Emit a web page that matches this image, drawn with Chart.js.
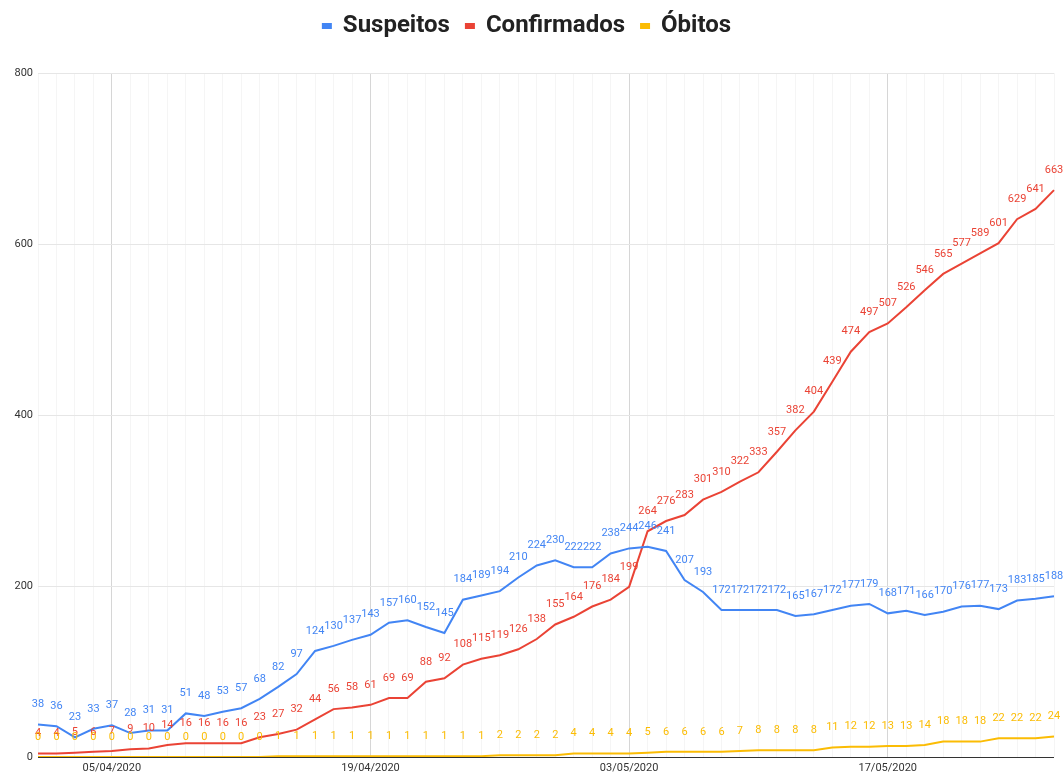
<!DOCTYPE html>
<html>
<head>
<meta charset="utf-8">
<script src="https://cdn.jsdelivr.net/npm/chart.js@4/dist/chart.umd.min.js"></script>
<style>
  html, body { margin: 0; padding: 0; background: #fff; }
  #wrap { width: 1064px; height: 776px; position: relative; }
</style>
</head>
<body>
<div id="wrap"><canvas id="c" width="1064" height="776"></canvas></div>
<script>
const categories = [
  "01/04/2020","02/04/2020","03/04/2020","04/04/2020","05/04/2020","06/04/2020","07/04/2020","08/04/2020","09/04/2020","10/04/2020",
  "11/04/2020","12/04/2020","13/04/2020","14/04/2020","15/04/2020","16/04/2020","17/04/2020","18/04/2020","19/04/2020","20/04/2020",
  "21/04/2020","22/04/2020","23/04/2020","24/04/2020","25/04/2020","26/04/2020","27/04/2020","28/04/2020","29/04/2020","30/04/2020",
  "01/05/2020","02/05/2020","03/05/2020","04/05/2020","05/05/2020","06/05/2020","07/05/2020","08/05/2020","09/05/2020","10/05/2020",
  "11/05/2020","12/05/2020","13/05/2020","14/05/2020","15/05/2020","16/05/2020","17/05/2020","18/05/2020","19/05/2020","20/05/2020",
  "21/05/2020","22/05/2020","23/05/2020","24/05/2020","25/05/2020","26/05/2020"
];
const shownTickLabels = ["05/04/2020","19/04/2020","03/05/2020","17/05/2020"];
const yTicks = [0, 200, 400, 600, 800];

const suspeitos = [38,36,23,33,37,28,31,31,51,48, 53,57,68,82,97,124,130,137,143,157,
  160,152,145,184,189,194,210,224,230,222, 222,238,244,246,241,207,193,172,172,172,
  172,165,167,172,177,179,168,171,166,170, 176,177,173,183,185,188];
const confirmados = [4,4,5,6,7,9,10,14,16,16, 16,16,23,27,32,44,56,58,61,69,
  69,88,92,108,115,119,126,138,155,164, 176,184,199,264,276,283,301,310,322,333,
  357,382,404,439,474,497,507,526,546,565, 577,589,601,629,641,663];
const obitos = [0,0,0,0,0,0,0,0,0,0, 0,0,0,1,1,1,1,1,1,1,
  1,1,1,1,1,2,2,2,2,4, 4,4,4,5,6,6,6,6,7,8,
  8,8,8,11,12,12,13,13,14,18, 18,18,22,22,22,24];

const seriesNames = ["Suspeitos", "Confirmados", "Óbitos"];
const seriesColors = ["#4285f4", "#ea4335", "#fbbc04"];

const labelPlugin = {
  id: 'pointLabels',
  afterLayout(chart) {
    if (chart.legend) {
      chart.legend.top -= 25;
      chart.legend.bottom -= 25;
    }
  },
  afterDatasetsDraw(chart) {
    const ctx = chart.ctx;
    ctx.save();
    ctx.font = '11px Roboto';
    ctx.textAlign = 'center';
    ctx.textBaseline = 'middle';
    chart.data.datasets.forEach((ds, i) => {
      const meta = chart.getDatasetMeta(i);
      ctx.fillStyle = ds.borderColor;
      meta.data.forEach((pt, j) => {
        ctx.fillText(String(ds.data[j]), pt.x, pt.y - 20);
      });
    });
    ctx.restore();
  }
};

new Chart(document.getElementById('c'), {
  type: 'line',
  data: {
    labels: categories,
    datasets: [
      { label: seriesNames[0], data: suspeitos, borderColor: seriesColors[0], backgroundColor: seriesColors[0] },
      { label: seriesNames[1], data: confirmados, borderColor: seriesColors[1], backgroundColor: seriesColors[1] },
      { label: seriesNames[2], data: obitos, borderColor: seriesColors[2], backgroundColor: seriesColors[2] }
    ]
  },
  options: {
    responsive: false,
    animation: false,
    layout: { padding: { left: 0, right: 10, top: 23, bottom: 0 } },
    elements: {
      line: { borderWidth: 2, tension: 0 },
      point: { radius: 0, hoverRadius: 0 }
    },
    plugins: {
      legend: {
        position: 'top',
        align: 'center',
        labels: {
          boxWidth: 8,
          boxHeight: 4,
          padding: 16,
          color: '#222',
          font: { family: 'Roboto', size: 24, weight: 'bold' }
        }
      },
      tooltip: { enabled: false }
    },
    scales: {
      x: {
        offset: false,
        border: { display: false },
        afterFit(scale) { scale.height = 19; },
        grid: {
          drawTicks: false,
          color: (c) => (c.tick && shownTickLabels.includes(categories[c.index])) ? '#d6d6d6' : '#f5f5f5',
          lineWidth: 1
        },
        ticks: {
          autoSkip: false,
          maxRotation: 0,
          padding: 5,
          color: '#333',
          font: { family: 'Roboto', size: 11 },
          callback: function(v, idx) {
            const l = categories[idx];
            return shownTickLabels.includes(l) ? l : '';
          }
        }
      },
      y: {
        min: yTicks[0],
        max: yTicks[yTicks.length - 1],
        border: { display: false },
        afterFit(scale) { scale.width = 38; },
        afterBuildTicks(scale) { scale.ticks = yTicks.map(v => ({ value: v })); },
        grid: {
          drawTicks: false,
          color: (c) => c.tick && c.tick.value === 0 ? '#333' : '#e6e6e6'
        },
        ticks: {
          padding: 5,
          color: '#333',
          font: { family: 'Roboto', size: 11 }
        }
      }
    }
  },
  plugins: [labelPlugin]
});
</script>
</body>
</html>
